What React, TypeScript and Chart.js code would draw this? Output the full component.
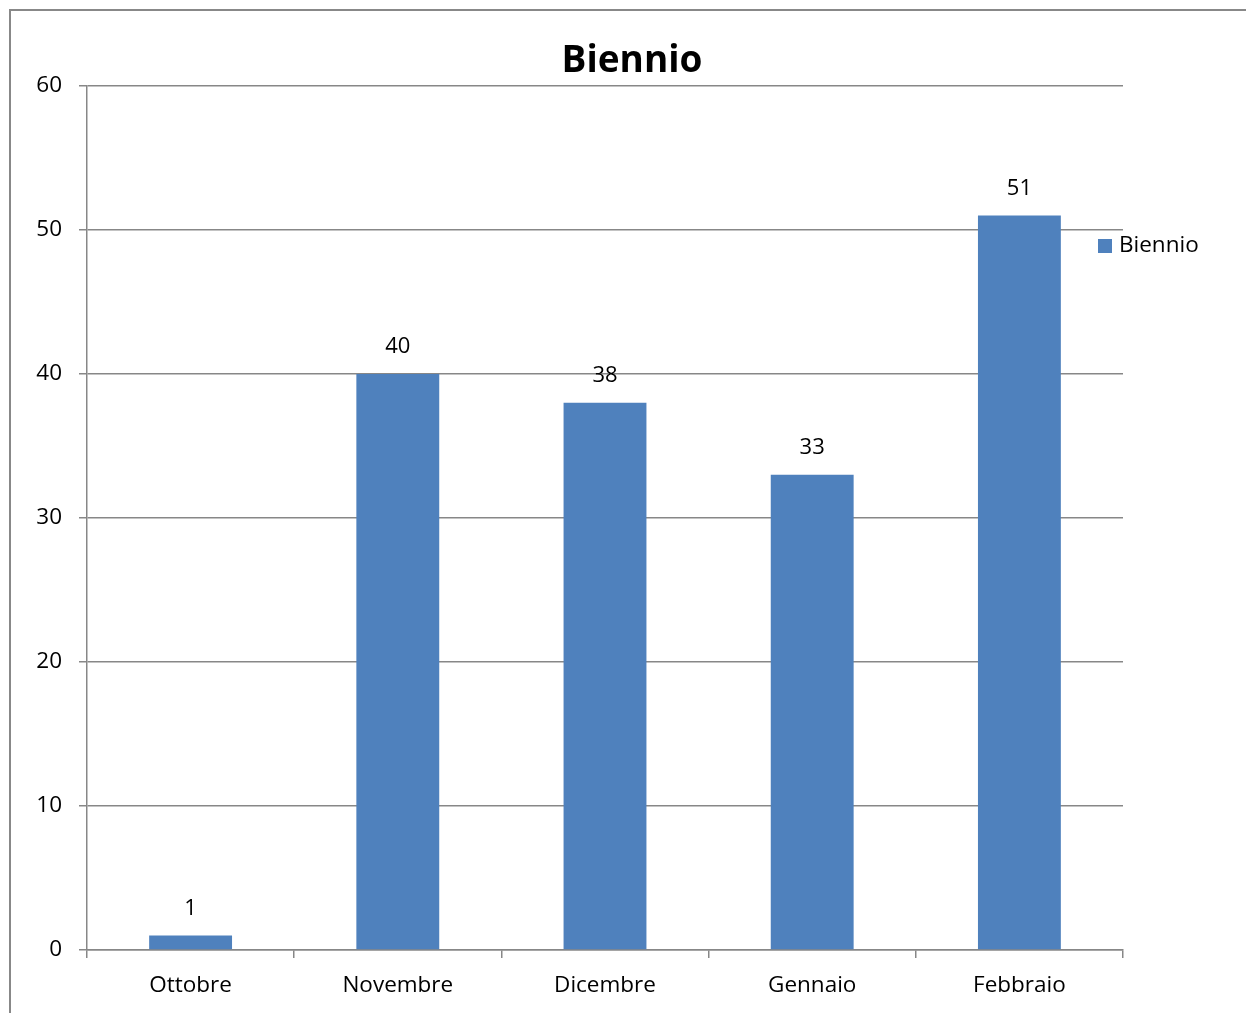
import React, { useEffect, useRef } from "react";
import { Chart, registerables } from "chart.js";

Chart.register(...registerables);

const titleText = "Biennio";
const seriesName = "Biennio";
const categories = ["Ottobre", "Novembre", "Dicembre", "Gennaio", "Febbraio"];
const values = [1, 40, 38, 33, 51];
const yTicks = [0, 10, 20, 30, 40, 50, 60];

export default function App() {
  const ref = useRef<HTMLCanvasElement>(null);

  useEffect(() => {
    const FONT = "'Open Sans', 'Noto Sans', sans-serif";
    const GRID = "#878787";
    const BAR = "#4F81BD";

    const valueLabels = {
      id: "valueLabels",
      afterDatasetsDraw(chart: any) {
        const ctx = chart.ctx;
        ctx.save();
        ctx.font = `22px ${FONT}`;
        ctx.fillStyle = "#000";
        ctx.textAlign = "center";
        ctx.textBaseline = "middle";
        chart.data.datasets.forEach((ds: any, di: number) => {
          const meta = chart.getDatasetMeta(di);
          meta.data.forEach((el: any, i: number) => {
            ctx.fillText(String(ds.data[i]), el.x, el.y - 27);
          });
        });
        ctx.restore();
      },
    };

    const sideTitle = {
      id: "sideTitle",
      afterDraw(chart: any) {
        const ctx = chart.ctx;
        ctx.save();
        ctx.font = `bold 37px ${FONT}`;
        ctx.fillStyle = "#000";
        ctx.textAlign = "center";
        ctx.textBaseline = "middle";
        ctx.fillText(titleText, 621, 50);
        ctx.restore();
      },
    };

    const sideLegend = {
      id: "sideLegend",
      afterDraw(chart: any) {
        const ctx = chart.ctx;
        const ds = chart.data.datasets[0];
        const x = chart.chartArea.right - 25;
        const y = 235;
        ctx.save();
        ctx.fillStyle = ds.backgroundColor;
        ctx.fillRect(x, y - 7, 14, 14);
        ctx.font = `22.5px ${FONT}`;
        ctx.fillStyle = "#000";
        ctx.textAlign = "left";
        ctx.textBaseline = "middle";
        ctx.fillText(ds.label, x + 21, y);
        ctx.restore();
      },
    };

    const chart = new Chart(ref.current as HTMLCanvasElement, {
      type: "bar",
      data: {
        labels: categories,
        datasets: [
          {
            label: seriesName,
            data: values,
            backgroundColor: BAR,
            barPercentage: 0.8,
            categoryPercentage: 0.5,
          },
        ],
      },
      options: {
        responsive: false,
        animation: false,
        layout: { padding: { left: 0, right: 123, top: 75, bottom: 0 } },
        plugins: {
          legend: { display: false },
          tooltip: { enabled: false },
          title: { display: false },
        },
        scales: {
          x: {
            grid: {
              drawOnChartArea: false,
              drawTicks: true,
              tickLength: 8,
              color: GRID,
              lineWidth: 1.5,
              offset: true,
            },
            border: { color: GRID, width: 1.5 },
            ticks: {
              color: "#000",
              font: { family: FONT, size: 22.5 },
              padding: 14,
              maxRotation: 0,
            },
            afterFit: (s: any) => {
              s.height = 63;
            },
          },
          y: {
            min: 0,
            max: 60,
            afterBuildTicks: (s: any) => {
              s.ticks = yTicks.map((v) => ({ value: v }));
            },
            grid: { color: GRID, lineWidth: 1.5, tickLength: 8 },
            border: { color: GRID, width: 1.5 },
            ticks: {
              color: "#000",
              font: { family: FONT, size: 22.5 },
              padding: 17,
            },
            afterFit: (s: any) => {
              s.width = 76;
            },
          },
        },
      },
      plugins: [valueLabels, sideTitle, sideLegend],
    });
    return () => chart.destroy();
  }, []);

  return (
    <div
      style={{
        position: "fixed",
        left: 9,
        top: 9,
        width: 1237,
        height: 1004,
        borderLeft: "2px solid #888",
        borderTop: "2px solid #888",
        background: "#fff",
      }}
    >
      <canvas
        ref={ref}
        width={1235}
        height={1002}
        style={{ display: "block", width: 1235, height: 1002 }}
      />
    </div>
  );
}
